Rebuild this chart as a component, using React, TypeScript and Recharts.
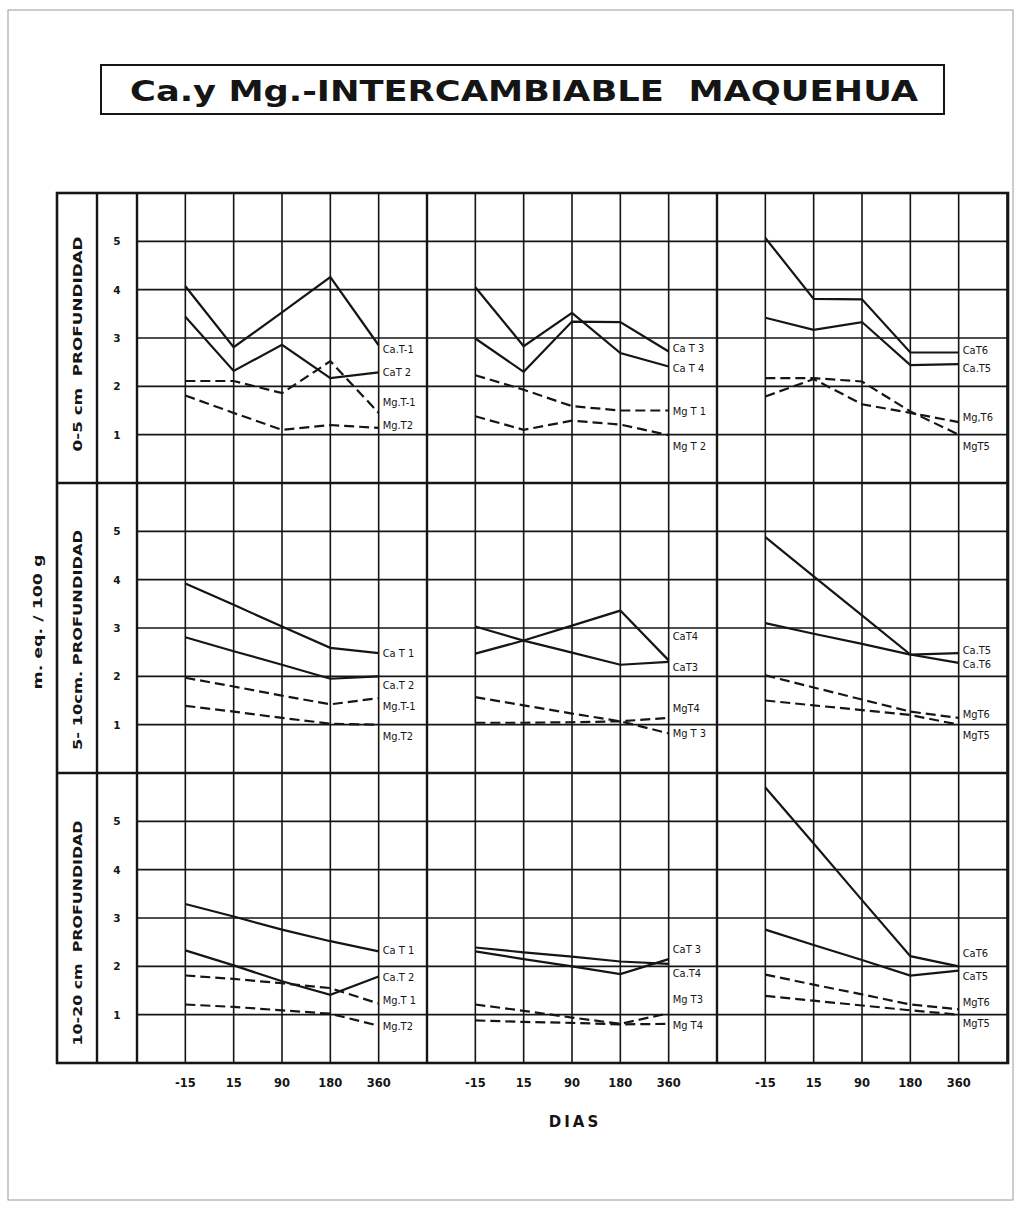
import React from "react";
import { LineChart, Line, XAxis, YAxis, CartesianGrid, ReferenceDot } from "recharts";

const DAYS = ["-15", "15", "90", "180", "360"];
const Y_TICKS = [1, 2, 3, 4, 5];

// 0-5 cm
const caT1_a = [4.07, 2.81, 3.53, 4.26, 2.85];
const caT2_a = [3.44, 2.32, 2.86, 2.17, 2.29];
const mgT1_a = [2.11, 2.11, 1.86, 2.52, 1.45];
const mgT2_a = [1.81, 1.45, 1.1, 1.2, 1.14];
const caT3_a = [2.99, 2.3, 3.34, 3.33, 2.72];
const caT4_a = [4.05, 2.83, 3.52, 2.69, 2.41];
const mgT1b_a = [2.23, 1.93, 1.59, 1.5, 1.5];
const mgT2b_a = [1.38, 1.1, 1.29, 1.21, 0.99];
const caT6_a = [5.07, 3.81, 3.8, 2.7, 2.7];
const caT5_a = [3.42, 3.17, 3.33, 2.44, 2.46];
const mgT6_a = [1.79, 2.15, 1.63, 1.45, 1.26];
const mgT5_a = [2.17, 2.17, 2.1, 1.48, 1.0];

// 5-10 cm
const caT1_b = [3.92, 3.48, 3.03, 2.59, 2.48];
const caT2_b = [2.81, 2.52, 2.24, 1.95, 2.0];
const mgT1_b = [1.97, 1.79, 1.6, 1.42, 1.55];
const mgT2_b = [1.39, 1.27, 1.14, 1.02, 1.0];
const caT4_b = [2.47, 2.74, 3.05, 3.36, 2.33];
const caT3_b = [3.03, 2.74, 2.49, 2.24, 2.3];
const mgT4_b = [1.04, 1.04, 1.05, 1.07, 1.14];
const mgT3_b = [1.57, 1.4, 1.23, 1.07, 0.82];
const caT6_b = [4.88, 4.07, 3.26, 2.45, 2.28];
const caT5_b = [3.1, 2.88, 2.67, 2.45, 2.48];
const mgT6_b = [2.02, 1.77, 1.52, 1.27, 1.14];
const mgT5_b = [1.5, 1.4, 1.3, 1.2, 1.0];

// 10-20 cm
const caT1_c = [3.29, 3.03, 2.76, 2.52, 2.31];
const caT2_c = [2.33, 2.02, 1.69, 1.41, 1.79];
const mgT1_c = [1.81, 1.74, 1.65, 1.55, 1.23];
const mgT2_c = [1.21, 1.16, 1.09, 1.02, 0.77];
const caT3_c = [2.39, 2.29, 2.2, 2.1, 2.05];
const caT4_c = [2.31, 2.15, 2.0, 1.84, 2.15];
const mgT3_c = [1.21, 1.08, 0.94, 0.81, 1.03];
const mgT4_c = [0.88, 0.85, 0.83, 0.8, 0.81];
const caT6_c = [5.7, 4.54, 3.37, 2.21, 2.0];
const caT5_c = [2.76, 2.44, 2.13, 1.81, 1.91];
const mgT6_c = [1.83, 1.62, 1.42, 1.21, 1.11];
const mgT5_c = [1.39, 1.29, 1.19, 1.09, 1.0];

// line-end label texts and their heights (m.eq./100g)
const labels1 = ["Ca.T-1", "CaT 2", "Mg.T-1", "Mg.T2"];
const labelY1 = [2.78, 2.29, 1.67, 1.21];
const labels2 = ["Ca T 3", "Ca T 4", "Mg T 1", "Mg T 2"];
const labelY2 = [2.79, 2.38, 1.5, 0.76];
const labels3 = ["CaT6", "Ca.T5", "Mg,T6", "MgT5"];
const labelY3 = [2.76, 2.37, 1.36, 0.77];
const labels4 = ["Ca T 1", "Ca.T 2", "Mg.T-1", "Mg.T2"];
const labelY4 = [2.48, 1.82, 1.39, 0.77];
const labels5 = ["CaT4", "CaT3", "MgT4", "Mg T 3"];
const labelY5 = [2.83, 2.2, 1.35, 0.82];
const labels6 = ["Ca.T5", "Ca.T6", "MgT6", "MgT5"];
const labelY6 = [2.55, 2.26, 1.23, 0.79];
const labels7 = ["Ca T 1", "Ca.T 2", "Mg.T 1", "Mg.T2"];
const labelY7 = [2.33, 1.77, 1.3, 0.76];
const labels8 = ["CaT 3", "Ca.T4", "Mg T3", "Mg T4"];
const labelY8 = [2.36, 1.86, 1.32, 0.78];
const labels9 = ["CaT6", "CaT5", "MgT6", "MgT5"];
const labelY9 = [2.28, 1.8, 1.27, 0.83];

const INK = "#151515";
const COND = "'DejaVu Sans Condensed', 'DejaVu Sans', sans-serif";
const SANS = "'DejaVu Sans', 'Liberation Sans', sans-serif";
const CELL = 290;

type Series = { values: number[]; dashed: boolean };

const panels = [
  { row: 0, col: 0, series: [caT1_a, caT2_a, mgT1_a, mgT2_a], labels: labels1, labelY: labelY1 },
  { row: 0, col: 1, series: [caT3_a, caT4_a, mgT1b_a, mgT2b_a], labels: labels2, labelY: labelY2 },
  { row: 0, col: 2, series: [caT6_a, caT5_a, mgT6_a, mgT5_a], labels: labels3, labelY: labelY3 },
  { row: 1, col: 0, series: [caT1_b, caT2_b, mgT1_b, mgT2_b], labels: labels4, labelY: labelY4 },
  { row: 1, col: 1, series: [caT4_b, caT3_b, mgT4_b, mgT3_b], labels: labels5, labelY: labelY5 },
  { row: 1, col: 2, series: [caT6_b, caT5_b, mgT6_b, mgT5_b], labels: labels6, labelY: labelY6 },
  { row: 2, col: 0, series: [caT1_c, caT2_c, mgT1_c, mgT2_c], labels: labels7, labelY: labelY7 },
  { row: 2, col: 1, series: [caT3_c, caT4_c, mgT3_c, mgT4_c], labels: labels8, labelY: labelY8 },
  { row: 2, col: 2, series: [caT6_c, caT5_c, mgT6_c, mgT5_c], labels: labels9, labelY: labelY9 },
];

const ROW_TOP = [193, 483, 773];
const COL_LEFT = [137, 427, 717];

function Panel({ row, col, series, labels, labelY }: any) {
  const lines: Series[] = series.map((v: number[], k: number) => ({ values: v, dashed: k >= 2 }));
  const data = DAYS.map((day, i) => {
    const r: any = { day };
    lines.forEach((s, k) => (r["s" + k] = s.values[i]));
    return r;
  });
  const showY = col === 0;
  const showX = row === 2;
  const yW = showY ? 40 : 0;
  return (
    <div style={{ position: "absolute", left: COL_LEFT[col] - yW, top: ROW_TOP[row] }}>
      <LineChart
        width={CELL + yW}
        height={CELL + (showX ? 34 : 0)}
        data={data}
        margin={{ top: 0, right: 0, bottom: 0, left: 0 }}
      >
        <CartesianGrid stroke={INK} strokeWidth={1.6} />
        <XAxis
          dataKey="day"
          padding={{ left: CELL / 6, right: CELL / 6 }}
          hide={!showX}
          height={34}
          axisLine={false}
          tickLine={false}
          interval={0}
          tick={(p: any) => (
            <text x={p.x} y={p.y + 16} textAnchor="middle" fontSize={11.5} fontWeight="bold" fontFamily={SANS} fill={INK}>
              {p.payload.value}
            </text>
          )}
        />
        <YAxis
          domain={[0, 6]}
          ticks={Y_TICKS}
          hide={!showY}
          width={40}
          axisLine={false}
          tickLine={false}
          tick={(p: any) => (
            <text x={20} y={p.y + 4} textAnchor="middle" fontSize={10.5} fontWeight="bold" fontFamily={SANS} fill={INK}>
              {p.payload.value}
            </text>
          )}
        />
        {lines.map((s, k) => (
          <Line
            key={k}
            dataKey={"s" + k}
            stroke={INK}
            strokeWidth={2.2}
            strokeDasharray={s.dashed ? "10 5" : undefined}
            dot={false}
            activeDot={false}
            isAnimationActive={false}
          />
        ))}
        {labels.map((t: string, k: number) => (
          <ReferenceDot
            key={"l" + k}
            x="360"
            y={labelY[k]}
            r={0}
            ifOverflow="visible"
            shape={(p: any) => (
              <text x={p.cx + 4} y={p.cy + 4} fontSize={11} fontFamily={COND} fill={INK}>
                {t}
              </text>
            )}
          />
        ))}
      </LineChart>
    </div>
  );
}

export default function App() {
  const right = 1008;
  const bottom = 1063;
  return (
    <div style={{ position: "absolute", left: 0, top: 0, width: 1019, height: 1209, background: "#fff" }}>
      {panels.map((p, i) => (
        <Panel key={i} {...p} />
      ))}
      <svg
        width={1019}
        height={1209}
        style={{ position: "absolute", left: 0, top: 0, pointerEvents: "none" }}
      >
        <rect x={8} y={10} width={1005} height={1190} fill="none" stroke="#9a9a9a" strokeWidth={1} />
        <rect x={101} y={65} width={843} height={49} fill="none" stroke={INK} strokeWidth={2} />
        <text
          x={130}
          y={101}
          fontSize={29}
          fontWeight="bold"
          fontFamily={SANS}
          fill={INK}
          textLength={788}
          lengthAdjust="spacingAndGlyphs"
          style={{ whiteSpace: "pre" }}
        >
          {"Ca.y Mg.-INTERCAMBIABLE  MAQUEHUA"}
        </text>

        <rect x={57} y={193} width={right - 57} height={bottom - 193} fill="none" stroke={INK} strokeWidth={2.6} />
        {[97, 137, 427, 717].map((x) => (
          <line key={x} x1={x} y1={193} x2={x} y2={bottom} stroke={INK} strokeWidth={2.4} />
        ))}
        {[483, 773].map((y) => (
          <line key={y} x1={57} y1={y} x2={right} y2={y} stroke={INK} strokeWidth={2.4} />
        ))}

        {[
          { t: "0-5 cm  PROFUNDIDAD", c: 344, l: 215 },
          { t: "5- 10cm. PROFUNDIDAD", c: 640, l: 220 },
          { t: "10-20 cm  PROFUNDIDAD", c: 933, l: 225 },
        ].map((d) => (
          <text
            key={d.t}
            x={0}
            y={0}
            transform={`translate(82 ${d.c}) rotate(-90)`}
            textAnchor="middle"
            fontSize={12}
            fontWeight="bold"
            fontFamily={SANS}
            fill={INK}
            textLength={d.l}
            lengthAdjust="spacingAndGlyphs"
            style={{ whiteSpace: "pre" }}
          >
            {d.t}
          </text>
        ))}

        <text
          transform="translate(42 622) rotate(-90)"
          textAnchor="middle"
          fontSize={13}
          fontWeight="bold"
          fontFamily={SANS}
          fill={INK}
          textLength={135}
          lengthAdjust="spacingAndGlyphs"
        >
          m. eq. / 100 g
        </text>

        <text x={575} y={1127} textAnchor="middle" fontSize={15} fontWeight="bold" fontFamily={SANS} fill={INK} letterSpacing={3}>
          DIAS
        </text>
      </svg>
    </div>
  );
}
